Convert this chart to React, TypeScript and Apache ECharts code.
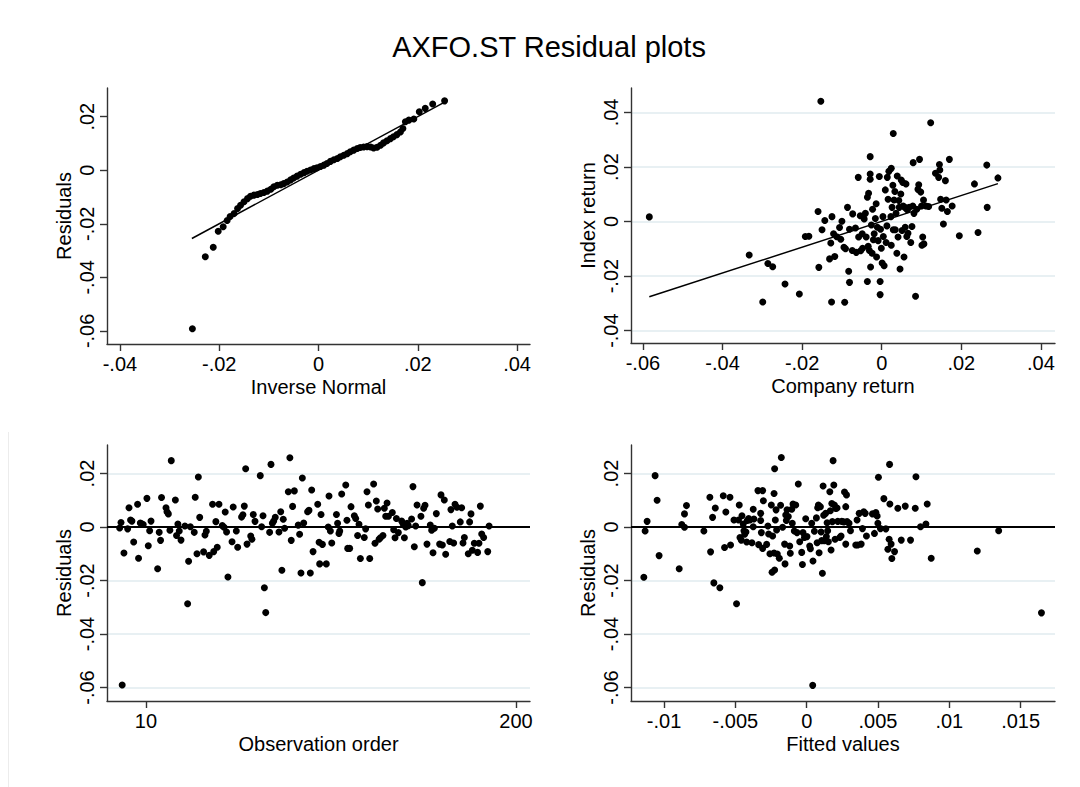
import React, { useEffect, useRef } from 'react';
import * as echarts from 'echarts';

const FONT = "'Liberation Sans', Arial, Helvetica, sans-serif";

// ---------- Panel 1: normal quantile plot (inverse normal, residual) ----------
const qqPoints: [number, number][] = [
  [-0.0254, -0.0592], [-0.0228, -0.0323], [-0.0212, -0.0288], [-0.0202, -0.0228], [-0.0192, -0.0211],
  [-0.0184, -0.0188], [-0.0178, -0.0173], [-0.017, -0.0162], [-0.0163, -0.0143], [-0.0157, -0.0131],
  [-0.015, -0.0118], [-0.0143, -0.0106], [-0.0137, -0.0097], [-0.013, -0.0093], [-0.0123, -0.0091],
  [-0.0117, -0.0087], [-0.011, -0.0083], [-0.0103, -0.0078], [-0.0096, -0.0071], [-0.009, -0.0062],
  [-0.0083, -0.0056], [-0.0076, -0.0054], [-0.007, -0.005], [-0.0063, -0.0044], [-0.0056, -0.0036],
  [-0.005, -0.0029], [-0.0043, -0.0022], [-0.0036, -0.0015], [-0.0029, -0.0009], [-0.0023, -0.0004],
  [-0.0016, 0.0001], [-0.0009, 0.0006], [-0.0003, 0.0009], [0.0004, 0.0014], [0.0011, 0.0019],
  [0.0017, 0.0025], [0.0024, 0.0033], [0.0031, 0.0039], [0.0038, 0.0044], [0.0044, 0.005],
  [0.0051, 0.0056], [0.0058, 0.0062], [0.0064, 0.0069], [0.0071, 0.0075], [0.0078, 0.0081],
  [0.0084, 0.0085], [0.0091, 0.0087], [0.0098, 0.0088], [0.0105, 0.0087], [0.0111, 0.0083],
  [0.0118, 0.0086], [0.0125, 0.0093], [0.0131, 0.0102], [0.0138, 0.011], [0.0145, 0.0118],
  [0.0151, 0.0125], [0.0158, 0.0133], [0.0165, 0.0143], [0.017, 0.0156], [0.0175, 0.0181],
  [0.0182, 0.0187], [0.0192, 0.0191], [0.0203, 0.0218], [0.0215, 0.0231], [0.023, 0.0247],
  [0.0254, 0.0259],
];
const qqLine: [number, number][] = [[-0.0255, -0.0255], [0.0255, 0.0255]];

// ---------- Panel 2: company return vs index return ----------
const returnPoints: [number, number][] = [
  [-0.0584, 0.0017], [-0.0333, -0.0123], [-0.0299, -0.0295], [-0.0286, -0.0154], [-0.0274, -0.0166],
  [-0.0243, -0.0229], [-0.0153, 0.0441],
  [-0.0207, -0.0266], [-0.0192, -0.0055], [-0.0183, -0.0054], [-0.016, 0.0037], [-0.0158, -0.0168],
  [-0.015, -0.003], [-0.0143, 0.0004], [-0.0131, -0.0137], [-0.0128, -0.0079], [-0.0126, -0.0295],
  [-0.0125, 0.0018], [-0.0121, -0.0045], [-0.0118, -0.0128], [-0.0113, -0.0056], [-0.0106, -0.0022],
  [-0.0103, -0.0065], [-0.01, 0.0001], [-0.0095, -0.0094], [-0.0093, -0.0296], [-0.0091, -0.01],
  [-0.0086, 0.0052], [-0.0083, -0.0182], [-0.0081, -0.0223], [-0.0081, -0.0028], [-0.0074, -0.0106],
  [-0.0073, 0.0028], [-0.0066, -0.0024], [-0.0064, -0.0113], [-0.0059, 0.0162], [-0.0058, -0.0057],
  [-0.0054, 0.0021], [-0.0053, -0.0107], [-0.0049, -0.0045], [-0.0048, -0.0098], [-0.0044, 0.0009],
  [-0.0041, 0.003], [-0.0039, -0.0057], [-0.0036, 0.0089], [-0.0036, -0.022], [-0.0034, -0.0091],
  [-0.0033, 0.0104], [-0.0031, -0.0106], [-0.0029, 0.0238], [-0.0029, 0.0174], [-0.0029, 0.0155],
  [-0.0028, -0.0167], [-0.0026, -0.0013], [-0.0024, -0.0116], [-0.0023, 0.0045], [-0.0021, -0.0067],
  [-0.0019, -0.0045], [-0.0016, 0.0011], [-0.0014, 0.0065], [-0.0013, -0.013], [-0.0011, -0.0021],
  [-0.0009, -0.007], [-0.0006, 0.0165], [-0.0004, -0.022], [-0.0004, -0.0268], [-0.0003, -0.0028],
  [-0.0001, -0.0098], [0.0001, -0.0152], [0.0003, 0.0018], [0.0004, -0.0055], [0.0006, -0.0162],
  [0.0009, 0.0116], [0.0011, -0.0077], [0.0013, -0.0016], [0.0014, 0.0162], [0.0016, 0.0082],
  [0.0018, 0.0184], [0.0024, -0.0087], [0.0029, -0.003],
  [0.0023, 0.0018], [0.0024, 0.0195], [0.0026, 0.0052], [0.0028, 0.0133], [0.0029, 0.0323],
  [0.0031, 0.0079], [0.0033, 0.011], [0.0034, -0.003], [0.0036, 0.003], [0.0038, -0.0116],
  [0.0039, 0.0167], [0.0041, -0.0057], [0.0043, 0.0077], [0.0044, 0.0052], [0.0046, -0.0174],
  [0.0048, 0.0101], [0.0049, 0.0152], [0.0051, -0.0033], [0.0053, 0.0143], [0.0054, 0.0057],
  [0.0056, -0.013], [0.0058, 0.0052], [0.0059, -0.0021], [0.0061, 0.0138], [0.0063, -0.0055],
  [0.0064, 0.0043], [0.0066, -0.0043], [0.0069, 0.0052], [0.0073, -0.0077], [0.0076, -0.0018],
  [0.0078, 0.0057], [0.0079, 0.0216], [0.0081, 0.003], [0.0085, -0.0274], [0.0088, 0.0045],
  [0.0091, 0.0118], [0.0093, 0.0135], [0.0095, 0.0228], [0.0098, 0.0108], [0.01, 0.0057],
  [0.0101, -0.0087], [0.0103, -0.0057], [0.0105, 0.0079], [0.0106, -0.0082], [0.0111, 0.0057],
  [0.0118, 0.0055], [0.0123, 0.0362], [0.0135, 0.0177], [0.0143, 0.0162], [0.0145, 0.0209],
  [0.0146, 0.0189], [0.0148, 0.0082], [0.0151, 0.0049], [0.0155, -0.0009], [0.016, 0.015],
  [0.0162, 0.0079], [0.0165, 0.0037], [0.017, 0.0228], [0.0177, 0.0057], [0.0195, -0.0052],
  [0.0233, 0.0138], [0.0242, -0.004], [0.0264, 0.0207], [0.0265, 0.0052], [0.0292, 0.016],
];
const returnFitLine: [number, number][] = [[-0.0584, -0.0276], [0.0292, 0.0139]];

// ---------- Panel 3: residuals by observation order ----------
const orderResiduals: [number, number][] = [
  [-3.5, -0.0004], [-2.8, 0.0017], [-2.2, -0.0591], [-1.3, -0.0097], [0.6, -0.0007], [1.3, 0.0072],
  [2.1, 0.0026], [2.8, 0.0022], [3.7, -0.0056], [5.7, 0.0085], [6.2, -0.0117], [7.1, 0.0015],
  [7.8, 0.0012], [8.6, 0.0009], [10.5, 0.0107], [11.2, -0.007], [11.9, -0.0014], [12.6, 0.0022],
  [16.0, -0.0156], [16.8, -0.002], [17.5, -0.005], [18.0, 0.011], [20.3, 0.0072], [20.8, 0.0057],
  [21.5, 0.0049], [22.3, -0.0012], [23.0, 0.0248], [25.1, 0.0101], [25.7, -0.0032], [26.4, 0.0011],
  [27.1, -0.0015], [28.0, -0.0049], [30.0, 0.0004], [31.4, -0.0287], [31.9, -0.0128], [32.8, 0.0001],
  [34.8, -0.002], [35.3, 0.0111], [36.2, -0.01], [36.9, 0.0187], [37.6, 0.0036], [39.6, -0.0093],
  [40.3, -0.003], [41.0, -0.0016], [42.5, -0.0106], [44.2, 0.0085], [44.8, -0.0092], [45.9, 0.002],
  [46.6, -0.0076], [47.5, 0.0085], [49.2, 0.0005], [50.1, -0.0001], [50.7, 0.0056], [51.4, -0.0019],
  [52.1, -0.0187], [54.2, -0.0055], [54.8, 0.0075], [56.4, -0.0015], [57.1, -0.0076], [59.1, 0.0037],
  [59.8, 0.0046], [60.5, 0.0078], [61.2, 0.0218], [61.9, -0.0064], [63.8, -0.0034], [64.4, -0.0046],
  [65.1, 0.0047], [66.0, 0.0021], [68.7, 0.0192], [69.4, 0.0001], [70.1, 0.0042], [70.8, -0.0227],
  [71.5, -0.032], [73.5, -0.002], [74.2, 0.0234], [74.9, 0.0014], [75.6, 0.0022], [76.4, 0.0036],
  [78.3, -0.0019], [79.2, 0.0057], [79.8, -0.0162], [80.5, 0.0029], [81.2, -0.0005], [83.1, 0.0132],
  [83.9, 0.0259], [84.6, -0.005], [85.3, 0.0077], [86.2, 0.0135], [88.2, 0.0007], [88.9, -0.0027],
  [89.6, -0.0172], [90.3, 0.0183], [91.0, 0.0015], [93.0, 0.0057], [93.7, 0.0062], [94.4, -0.0172],
  [95.1, 0.0138], [95.8, -0.0092],
  [98.2, 0.0085], [98.9, -0.0057], [99.2, -0.0138], [99.9, 0.0047], [100.6, -0.0065], [102.6, -0.0138],
  [103.6, 0.0], [104.0, 0.0116], [104.7, -0.0015], [105.4, -0.006], [107.8, 0.0047], [108.4, 0.0014],
  [109.1, -0.0024], [109.5, -0.0015], [110.5, 0.0123], [112.6, 0.0157], [113.2, 0.0025], [113.6, -0.008],
  [114.6, -0.008], [115.3, 0.0076], [117.0, 0.0042], [117.7, 0.0032], [118.7, -0.0032], [119.4, 0.001],
  [120.1, -0.0118], [122.1, -0.0039], [122.8, -0.0007], [123.5, 0.0132], [124.2, 0.0082], [124.9, -0.0118],
  [126.9, 0.0161], [127.6, -0.0061], [128.3, 0.0097], [129.0, 0.0067], [129.7, -0.0046], [130.4, -0.004],
  [131.7, -0.0032], [132.4, 0.007], [133.1, 0.004], [133.8, 0.009], [134.5, 0.004], [136.5, 0.0054],
  [137.2, -0.001], [137.9, -0.004], [138.6, 0.0032], [139.6, -0.0021], [141.3, 0.0022], [142.0, 0.0012],
  [142.7, -0.004], [143.4, 0.0], [144.1, 0.0014], [144.7, 0.0005], [146.4, 0.003], [147.1, 0.0151],
  [147.8, -0.0074], [148.5, 0.0004], [149.2, 0.0082], [151.2, 0.004], [151.9, -0.0208], [152.6, 0.007],
  [153.3, 0.0081], [154.3, -0.0064], [156.0, 0.0007], [156.7, -0.0012], [157.4, -0.0096], [158.1, -0.0005],
  [159.1, 0.005], [160.8, -0.0064], [161.5, 0.012], [162.2, -0.0067], [163.2, 0.0101], [163.9, -0.0102],
  [166.0, -0.0054], [166.6, 0.0065], [167.3, 0.0004], [168.0, -0.006], [168.7, 0.0085], [169.7, 0.0074],
  [171.4, 0.0019], [172.1, 0.0072], [172.8, -0.006], [173.5, -0.0039], [175.5, -0.01], [176.2, 0.0019],
  [176.9, 0.0049], [177.6, -0.0087], [178.6, -0.0061], [180.3, -0.0095], [181.0, -0.0061], [181.7, 0.0078],
  [182.4, -0.0026], [183.4, -0.0039], [185.5, -0.0092], [186.2, 0.0004],
];

// ---------- Panel 4: residuals vs fitted values ----------
const fittedResiduals: [number, number][] = [
  [-0.01142, -0.0188], [-0.01133, -0.0015], [-0.01119, 0.0021], [-0.01063, 0.0192], [-0.01049, 0.01],
  [-0.01035, -0.0107], [-0.00894, -0.0156], [-0.00876, 0.0009], [-0.00857, 0.0049], [-0.00857, -0.0001],
  [-0.00843, 0.008], [-0.00721, -0.0015], [-0.00679, 0.0111], [-0.00674, -0.0093], [-0.0066, 0.0036],
  [-0.00651, -0.0209], [-0.00641, 0.0071], [-0.00609, -0.0227], [-0.00585, 0.0117], [-0.00576, -0.0077],
  [-0.00567, 0.0056], [-0.00538, 0.0111], [-0.00534, -0.0067], [-0.0051, 0.0026], [-0.00492, -0.0287],
  [-0.00478, 0.0026], [-0.00473, 0.0082], [-0.00468, -0.0039], [-0.00459, -0.0049], [-0.00454, 0.0042],
  [-0.00445, 0.0011], [-0.0044, -0.0014], [-0.00435, -0.0027], [-0.00426, -0.0019], [-0.00421, -0.0056],
  [-0.00417, 0.0024], [-0.00407, 0.0032], [-0.00398, 0.0026], [-0.00384, -0.0059], [-0.00375, 0.0066],
  [-0.00375, 0.0001], [-0.0037, 0.003], [-0.00342, 0.0136], [-0.00337, -0.0066], [-0.00323, 0.0051],
  [-0.00323, 0.0024], [-0.00318, -0.0021], [-0.00309, 0.0136], [-0.00304, 0.0098], [-0.00309, -0.008],
  [-0.00281, -0.0065], [-0.00272, 0.0004], [-0.00267, -0.0026], [-0.00258, -0.01], [-0.00248, 0.0082],
  [-0.00243, -0.0169], [-0.00239, -0.0034], [-0.00229, 0.0125], [-0.00229, -0.0097], [-0.00225, 0.0218],
  [-0.00225, -0.0161], [-0.0022, 0.0026], [-0.00215, 0.0064], [-0.00211, -0.0011], [-0.00206, -0.0101],
  [-0.00192, -0.0117], [-0.00183, 0.0081], [-0.00178, 0.026], [-0.00169, -0.0001], [-0.00155, -0.0064],
  [-0.00152, -0.0138], [-0.00147, 0.0045], [-0.00143, 0.0024], [-0.00138, 0.0064], [-0.00129, 0.0039],
  [-0.00119, -0.0071], [-0.00115, -0.0098], [-0.00105, 0.0066], [-0.00101, 0.0014], [-0.00096, 0.0086],
  [-0.00087, -0.0015], [-0.00077, 0.0082], [-0.00068, -0.0021], [-0.00059, 0.0161], [-0.00049, -0.0055],
  [-0.00035, -0.0095], [-0.0003, -0.014], [-0.00026, -0.0021], [-0.00016, -0.0039], [-0.00007, 0.0031],
  [0.00002, -0.0036], [0.00021, -0.0071], [0.00026, -0.0081], [0.00035, 0.0014], [0.00044, -0.0127],
  [0.00054, -0.0016], [0.00068, 0.0034], [0.00073, -0.0059], [0.00077, 0.0072], [0.00082, 0.0082],
  [0.00087, -0.0096], [0.00096, 0.0076], [0.00101, -0.0019], [0.00105, -0.0051], [0.0011, -0.0173],
  [0.00115, 0.0153], [0.00119, 0.0044], [0.00124, -0.0051], [0.00133, 0.0051], [0.00138, -0.0036],
  [0.00143, 0.0016], [0.00147, -0.0014], [0.00152, -0.0055], [0.00162, 0.0132], [0.00166, 0.0061],
  [0.00171, -0.0086], [0.00176, 0.0088], [0.0018, 0.002], [0.00185, 0.0248], [0.0019, 0.0157],
  [0.00194, 0.0082], [0.00199, -0.0046], [0.00204, 0.0069], [0.00213, 0.0071], [0.00218, 0.0021],
  [0.00232, -0.0039], [0.00241, -0.0034], [0.00246, 0.0021], [0.0026, 0.0019], [0.00265, 0.0131],
  [0.00274, 0.0076], [0.00279, 0.012], [0.00274, -0.0064], [0.00283, 0.002], [0.00297, 0.0014],
  [0.00307, -0.0014], [0.00344, -0.0067], [0.00353, 0.0026], [0.00358, -0.0067], [0.00368, 0.0051],
  [0.00382, -0.0064], [0.00391, -0.0006], [0.004, 0.0057], [0.0041, 0.0051], [0.00419, -0.0034],
  [0.00461, 0.0049], [0.00475, -0.0024], [0.00485, 0.0054], [0.00494, 0.0041], [0.00499, 0.0014],
  [0.00503, 0.0186], [0.00517, -0.0006], [0.00541, 0.0106], [0.00555, -0.0007], [0.00569, -0.0083],
  [0.00578, -0.0046], [0.00581, 0.0234], [0.00583, 0.0086], [0.00592, -0.0064], [0.00597, -0.0118],
  [0.00616, -0.0092], [0.00639, 0.007], [0.00663, -0.0049], [0.00691, 0.0078], [0.00728, -0.0049],
  [0.00761, 0.007], [0.00766, 0.0188], [0.00798, 0.0001], [0.00836, 0.0011], [0.00845, 0.0086],
  [0.00873, -0.0117], [0.00042, -0.0592], [0.01196, -0.009], [0.01346, -0.0014], [0.01646, -0.0321],
];

// ---------- Axis ticks ----------
const ticksPm04 = [-0.04, -0.02, 0, 0.02, 0.04];
const ticksResid = [-0.06, -0.04, -0.02, 0, 0.02];
const ticksCompany = [-0.06, -0.04, -0.02, 0, 0.02, 0.04];
const ticksIndex = [-0.04, -0.02, 0, 0.02, 0.04];
const ticksOrder = [10, 200];
const ticksFitted = [-0.01, -0.005, 0, 0.005, 0.01, 0.015];

const title = 'AXFO.ST Residual plots';

const fmt = (v: number) => {
  if (Math.abs(v) < 1e-12) return '0';
  const s = String(Number(Number(v).toPrecision(6)));
  return s.replace(/^(-?)0\./, '$1.');
};

const AXIS_COLOR = '#333333';
const GRID_COLOR = '#e1ebef';
const TEXT_SIZE = 20;

function axis(
  gridIndex: number,
  min: number,
  max: number,
  ticks: number[],
  name: string,
  isY: boolean,
  showGrid: boolean
) {
  return {
    type: 'value',
    gridIndex,
    min,
    max,
    name,
    nameLocation: 'middle',
    nameGap: 33,
    nameTextStyle: { fontSize: TEXT_SIZE, color: '#000', fontFamily: FONT },
    axisLine: { show: true, onZero: false, lineStyle: { color: AXIS_COLOR, width: 1.4 } },
    axisTick: {
      show: true,
      inside: false,
      length: 7,
      customValues: ticks,
      lineStyle: { color: AXIS_COLOR, width: 1.4 },
    },
    axisLabel: {
      show: true,
      customValues: ticks,
      formatter: fmt,
      fontSize: TEXT_SIZE,
      color: '#000',
      fontFamily: FONT,
      margin: 10,
      rotate: isY ? 90 : 0,
    },
    splitLine: { show: showGrid, lineStyle: { color: GRID_COLOR, width: 1.6 } },
  };
}

const scatter = (idx: number, data: [number, number][]) => ({
  type: 'scatter',
  xAxisIndex: idx,
  yAxisIndex: idx,
  data,
  symbol: 'circle',
  symbolSize: 7,
  itemStyle: { color: '#000', opacity: 1 },
  silent: true,
  z: 3,
});

const lineSeries = (idx: number, data: [number, number][]) => ({
  type: 'line',
  xAxisIndex: idx,
  yAxisIndex: idx,
  data,
  showSymbol: false,
  symbol: 'none',
  lineStyle: { color: '#000', width: 1.5 },
  silent: true,
  z: 4,
});

const zeroLine = {
  silent: true,
  symbol: ['none', 'none'],
  label: { show: false },
  lineStyle: { color: '#000', width: 1.8, type: 'solid' },
  data: [{ yAxis: 0 }],
};

export default function App() {
  const ref = useRef<HTMLDivElement>(null);

  useEffect(() => {
    if (!ref.current) return;
    const chart = echarts.init(ref.current, undefined, { renderer: 'svg' });
    const option: any = {
      animation: false,
      backgroundColor: '#ffffff',
      graphic: [
        {
          type: 'text',
          x: 549,
          y: 47,
          style: {
            text: title,
            font: `29px ${FONT}`,
            fill: '#000',
            align: 'center',
            verticalAlign: 'middle',
          },
        },
        {
          type: 'line',
          shape: { x1: 8.5, y1: 432, x2: 8.5, y2: 787 },
          style: { stroke: '#ececec', lineWidth: 1 },
          silent: true,
        },
      ],
      grid: [
        { left: 107, top: 88, width: 423, height: 256 },
        { left: 631, top: 88, width: 424, height: 255 },
        { left: 107, top: 445, width: 423, height: 256 },
        { left: 631, top: 445, width: 424, height: 256 },
      ],
      xAxis: [
        axis(0, -0.0426, 0.0426, ticksPm04, 'Inverse Normal', false, false),
        axis(1, -0.063, 0.04354, ticksCompany, 'Company return', false, false),
        axis(2, -10, 207.2, ticksOrder, 'Observation order', false, false),
        axis(3, -0.01232, 0.01741, ticksFitted, 'Fitted values', false, false),
      ],
      yAxis: [
        axis(0, -0.0649, 0.0307, ticksResid, 'Residuals', true, false),
        axis(1, -0.04454, 0.04897, ticksIndex, 'Index return', true, true),
        axis(2, -0.06505, 0.03065, ticksResid, 'Residuals', true, true),
        axis(3, -0.06505, 0.03065, ticksResid, 'Residuals', true, true),
      ],
      series: [
        scatter(0, qqPoints),
        lineSeries(0, qqLine),
        scatter(1, returnPoints),
        lineSeries(1, returnFitLine),
        { ...scatter(2, orderResiduals), markLine: zeroLine },
        { ...scatter(3, fittedResiduals), markLine: zeroLine },
      ],
    };
    chart.setOption(option);
    return () => {
      chart.dispose();
    };
  }, []);

  return (
    <div
      ref={ref}
      style={{ position: 'absolute', left: 0, top: 0, width: 1080, height: 787, background: '#fff' }}
    />
  );
}
